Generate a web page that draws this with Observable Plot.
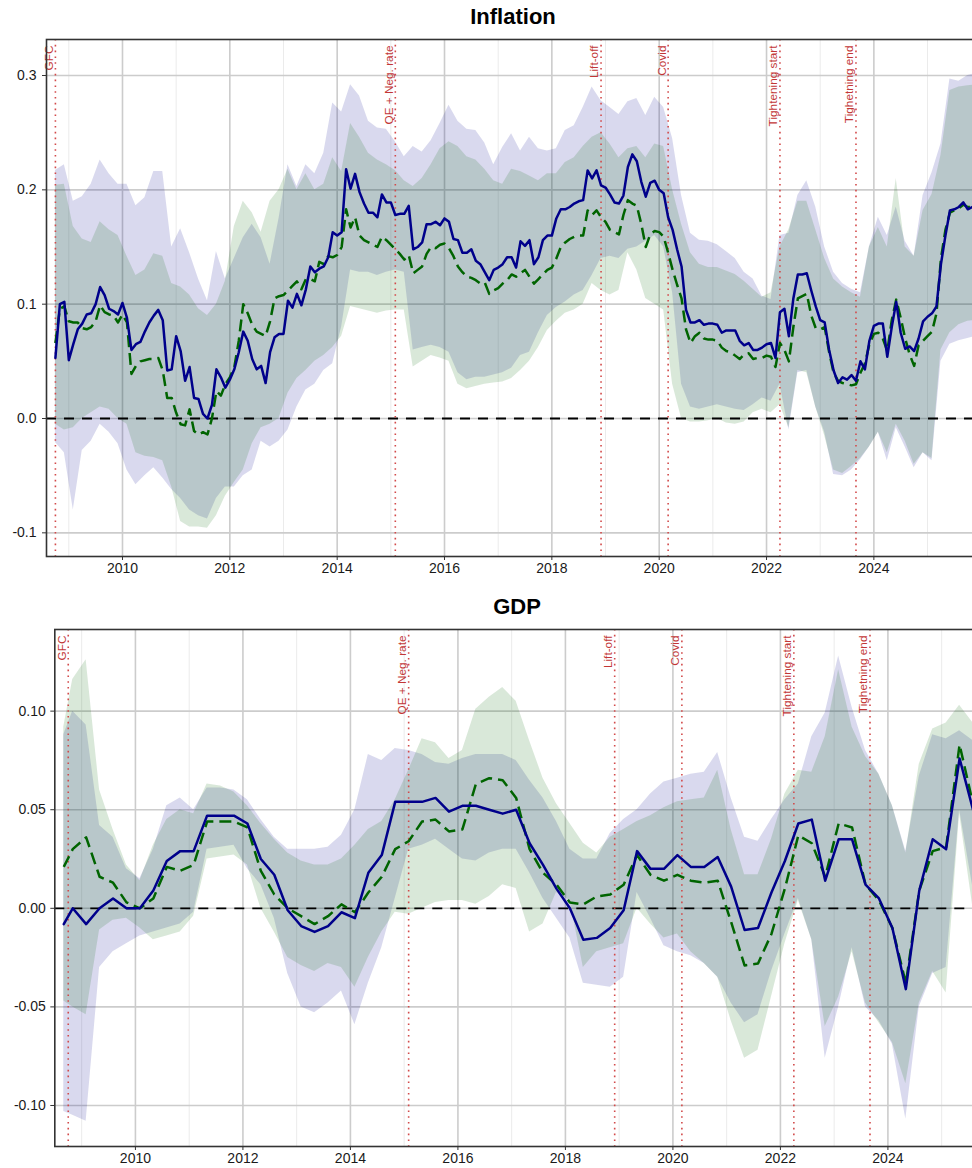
<!DOCTYPE html>
<html><head><meta charset="utf-8">
<script src="https://cdn.jsdelivr.net/npm/d3@7"></script>
<script src="https://cdn.jsdelivr.net/npm/@observablehq/plot@0.6"></script>
<style>
body{margin:0;background:#fff;}
#wrap{position:relative;width:972px;height:1168px;overflow:hidden;font-family:"Liberation Sans",Arial,sans-serif;}
.title{position:absolute;font-weight:bold;font-size:22px;line-height:22px;text-align:center;color:#000;}
.chart{position:absolute;left:0;}
</style></head><body>
<div id="wrap">
<div id="c1" class="chart" style="top:0"></div>
<div id="c2" class="chart" style="top:590px"></div>
<div class="title" style="top:6px;left:46px;width:934px">Inflation</div>
<div class="title" style="top:596px;left:54px;width:926px">GDP</div>
</div>
<script>
// ---------- Inflation: monthly lines (Oct 2008 - Nov 2025) ----------
const infBlue = [
0.053,0.100,0.102,0.051,0.065,0.078,0.083,0.091,0.092,0.100,
0.115,0.108,0.096,0.094,0.091,0.101,0.088,0.060,0.065,0.067,
0.076,0.084,0.090,0.095,0.086,0.042,0.043,0.072,0.059,0.033,
0.045,0.018,0.017,0.004,0.000,0.012,0.043,0.036,0.027,0.034,
0.043,0.058,0.076,0.068,0.052,0.043,0.046,0.031,0.058,0.071,
0.074,0.074,0.103,0.097,0.109,0.099,0.113,0.133,0.128,0.131,
0.133,0.141,0.163,0.160,0.163,0.218,0.201,0.214,0.198,0.188,
0.180,0.180,0.176,0.196,0.189,0.189,0.178,0.179,0.179,0.186,
0.148,0.150,0.154,0.170,0.170,0.172,0.169,0.175,0.172,0.157,
0.156,0.145,0.145,0.148,0.138,0.135,0.128,0.121,0.130,0.132,
0.135,0.141,0.141,0.132,0.155,0.151,0.156,0.135,0.141,0.156,
0.160,0.160,0.175,0.183,0.183,0.185,0.188,0.190,0.191,0.217,
0.210,0.217,0.204,0.202,0.196,0.189,0.188,0.195,0.220,0.231,
0.225,0.207,0.194,0.206,0.208,0.200,0.197,0.176,0.165,0.148,
0.133,0.095,0.084,0.084,0.086,0.082,0.083,0.083,0.082,0.075,
0.077,0.077,0.077,0.068,0.064,0.066,0.060,0.060,0.062,0.065,
0.066,0.053,0.093,0.096,0.072,0.105,0.126,0.126,0.127,0.112,
0.098,0.086,0.084,0.060,0.042,0.031,0.036,0.034,0.038,0.033,
0.050,0.043,0.068,0.081,0.083,0.083,0.054,0.080,0.102,0.075,
0.061,0.063,0.059,0.070,0.085,0.089,0.092,0.098,0.135,0.160,
0.182,0.183,0.185,0.189,0.183,0.185];
const infGreen = [
0.066,0.096,0.098,0.085,0.084,0.084,0.079,0.078,0.080,0.085,
0.099,0.093,0.091,0.090,0.084,0.091,0.084,0.039,0.046,0.050,
0.051,0.052,0.052,0.053,0.042,0.018,0.018,0.005,-0.005,-0.006,
0.008,-0.011,-0.014,-0.012,-0.014,0.000,0.024,0.020,0.030,0.036,
0.045,0.068,0.100,0.092,0.082,0.076,0.074,0.072,0.085,0.105,
0.107,0.108,0.112,0.116,0.120,0.113,0.122,0.122,0.120,0.137,
0.135,0.142,0.141,0.143,0.150,0.183,0.167,0.176,0.160,0.156,
0.154,0.152,0.150,0.159,0.156,0.152,0.148,0.144,0.139,0.143,
0.127,0.130,0.133,0.144,0.150,0.149,0.152,0.153,0.149,0.142,
0.133,0.128,0.124,0.123,0.121,0.118,0.119,0.109,0.112,0.114,
0.118,0.121,0.126,0.124,0.127,0.130,0.124,0.118,0.122,0.126,
0.130,0.132,0.140,0.150,0.154,0.157,0.159,0.160,0.160,0.182,
0.178,0.182,0.176,0.172,0.165,0.163,0.161,0.178,0.191,0.188,
0.186,0.170,0.150,0.161,0.164,0.163,0.159,0.145,0.130,0.117,
0.105,0.078,0.066,0.072,0.075,0.070,0.069,0.069,0.068,0.062,
0.059,0.058,0.055,0.052,0.056,0.057,0.052,0.053,0.053,0.055,
0.054,0.045,0.066,0.060,0.050,0.080,0.105,0.107,0.109,0.090,
0.079,0.078,0.080,0.058,0.040,0.033,0.031,0.030,0.029,0.030,
0.040,0.048,0.065,0.074,0.075,0.070,0.059,0.086,0.104,0.088,
0.070,0.056,0.046,0.064,0.068,0.072,0.076,0.092,0.140,0.165,
0.180,0.182,0.184,0.187,0.185,0.185];
// ---------- Inflation: bands, every two months (Oct 2008 - Dec 2025) ----------
const infBlueHi = [
0.217,0.222,0.190,0.194,0.205,0.226,0.214,0.205,0.205,0.186,
0.193,0.216,0.216,0.150,0.166,0.145,0.122,0.103,0.146,0.122,
0.140,0.158,0.170,0.158,0.135,0.175,0.222,0.203,0.222,0.214,
0.232,0.276,0.268,0.292,0.282,0.260,0.254,0.253,0.242,0.229,
0.238,0.233,0.243,0.258,0.274,0.260,0.253,0.252,0.241,0.222,
0.237,0.249,0.234,0.246,0.236,0.234,0.236,0.252,0.256,0.272,
0.290,0.278,0.272,0.266,0.277,0.280,0.265,0.281,0.272,0.245,
0.195,0.162,0.156,0.155,0.152,0.146,0.140,0.128,0.122,0.107,
0.104,0.160,0.162,0.195,0.208,0.185,0.150,0.128,0.118,0.113,
0.110,0.150,0.176,0.160,0.185,0.155,0.142,0.195,0.215,0.240,
0.297,0.295,0.300,0.302];
const infGreenHi = [
0.204,0.205,0.168,0.157,0.154,0.172,0.165,0.160,0.142,0.125,
0.130,0.144,0.142,0.118,0.115,0.108,0.096,0.090,0.100,0.120,
0.168,0.190,0.180,0.163,0.190,0.200,0.218,0.200,0.214,0.200,
0.205,0.228,0.216,0.258,0.246,0.232,0.226,0.222,0.217,0.208,
0.203,0.210,0.222,0.236,0.242,0.238,0.229,0.226,0.218,0.208,
0.205,0.218,0.216,0.212,0.208,0.214,0.214,0.224,0.228,0.238,
0.246,0.250,0.240,0.228,0.236,0.238,0.228,0.240,0.238,0.200,
0.170,0.145,0.135,0.132,0.132,0.129,0.126,0.120,0.113,0.106,
0.110,0.150,0.165,0.190,0.190,0.165,0.140,0.122,0.115,0.110,
0.106,0.150,0.167,0.150,0.210,0.150,0.142,0.182,0.196,0.230,
0.287,0.290,0.291,0.292];
const infBlueLo = [
-0.021,-0.030,-0.080,-0.028,-0.020,-0.005,-0.012,-0.022,-0.045,-0.058,
-0.050,-0.043,-0.052,-0.062,-0.070,-0.080,-0.085,-0.088,-0.070,-0.060,
-0.060,-0.050,-0.045,-0.020,-0.025,-0.020,-0.010,0.010,0.025,0.030,
0.042,0.048,0.080,0.130,0.128,0.128,0.125,0.128,0.130,0.128,
0.060,0.062,0.064,0.062,0.058,0.040,0.034,0.036,0.036,0.038,
0.040,0.044,0.055,0.058,0.075,0.090,0.097,0.102,0.108,0.112,
0.125,0.140,0.142,0.140,0.148,0.150,0.155,0.160,0.150,0.110,
0.030,0.010,0.008,0.010,0.012,0.010,0.008,0.007,0.012,0.018,
0.015,0.030,-0.010,0.040,0.042,0.010,-0.012,-0.049,-0.050,-0.045,
-0.036,-0.025,-0.012,-0.037,-0.008,-0.025,-0.043,-0.030,-0.037,0.050,
0.065,0.068,0.070,0.072];
const infGreenLo = [
-0.005,-0.010,-0.008,0.000,0.005,0.010,0.008,0.000,-0.005,-0.030,
-0.033,-0.034,-0.037,-0.060,-0.090,-0.095,-0.095,-0.096,-0.085,-0.068,
-0.056,-0.045,-0.022,-0.008,-0.005,0.000,0.022,0.035,0.042,0.050,
0.055,0.062,0.072,0.098,0.096,0.094,0.092,0.094,0.095,0.095,
0.045,0.050,0.055,0.053,0.050,0.030,0.026,0.028,0.030,0.031,
0.032,0.035,0.042,0.050,0.062,0.077,0.085,0.092,0.095,0.100,
0.118,0.112,0.108,0.112,0.145,0.130,0.105,0.100,0.095,0.030,
0.000,-0.003,-0.003,-0.002,0.000,-0.004,-0.005,-0.003,0.005,0.008,
0.005,0.012,-0.008,0.042,0.040,0.010,-0.015,-0.045,-0.048,-0.042,
-0.035,-0.025,-0.012,-0.030,-0.005,-0.020,-0.040,-0.030,-0.035,0.060,
0.075,0.082,0.085,0.086];

// ---------- GDP: quarterly (Sep 2008, then Nov 2008 ... Aug 2025) ----------
const gdpBlue = [
-0.008,0.000,-0.008,0.000,0.005,0.000,0.000,0.009,0.024,0.029,
0.029,0.047,0.047,0.047,0.043,0.025,0.017,-0.001,-0.009,-0.012,
-0.009,-0.002,-0.005,0.018,0.027,0.054,0.054,0.054,0.056,0.049,
0.052,0.052,0.050,0.048,0.050,0.033,0.022,0.010,0.000,-0.016,
-0.015,-0.010,-0.001,0.029,0.020,0.020,0.027,0.021,0.021,0.026,
0.011,-0.011,-0.010,0.008,0.024,0.043,0.045,0.014,0.035,0.035,
0.012,0.005,-0.010,-0.041,0.009,0.035,0.030,0.076,0.050];
const gdpGreen = [
0.021,0.030,0.036,0.016,0.013,0.003,0.000,0.005,0.021,0.019,
0.022,0.044,0.044,0.044,0.041,0.019,0.007,0.000,-0.004,-0.008,
-0.004,0.002,-0.002,0.008,0.016,0.030,0.034,0.044,0.045,0.039,
0.040,0.063,0.066,0.065,0.056,0.030,0.018,0.012,0.003,0.002,
0.006,0.007,0.012,0.027,0.017,0.014,0.017,0.014,0.013,0.014,
-0.007,-0.029,-0.028,-0.013,0.010,0.037,0.033,0.016,0.043,0.041,
0.012,0.004,-0.010,-0.038,0.009,0.029,0.031,0.083,0.053];
const gdpBlueHi = [
0.088,0.100,0.093,0.042,0.036,0.020,0.015,0.030,0.052,0.056,
0.050,0.061,0.061,0.060,0.055,0.045,0.036,0.030,0.030,0.030,
0.031,0.037,0.050,0.078,0.075,0.081,0.080,0.078,0.074,0.073,
0.076,0.078,0.078,0.078,0.075,0.065,0.056,0.044,0.030,0.025,
0.025,0.038,0.045,0.050,0.058,0.064,0.066,0.068,0.069,0.079,
0.056,0.036,0.034,0.045,0.055,0.063,0.087,0.099,0.128,0.102,
0.080,0.068,0.052,0.029,0.067,0.088,0.086,0.090,0.085];
const gdpGreenHi = [
0.092,0.116,0.126,0.060,0.040,0.022,0.014,0.032,0.045,0.050,
0.048,0.063,0.062,0.059,0.052,0.043,0.035,0.028,0.024,0.022,
0.022,0.025,0.032,0.040,0.044,0.055,0.070,0.086,0.084,0.076,
0.080,0.101,0.107,0.112,0.105,0.085,0.066,0.053,0.043,0.033,
0.028,0.036,0.040,0.044,0.047,0.051,0.054,0.055,0.056,0.070,
0.040,0.017,0.017,0.035,0.058,0.070,0.069,0.087,0.121,0.092,
0.077,0.068,0.052,0.028,0.073,0.091,0.094,0.103,0.094];
const gdpBlueLo = [
-0.103,-0.105,-0.108,-0.030,-0.022,-0.018,-0.014,-0.012,-0.010,-0.008,
-0.002,0.030,0.031,0.032,0.020,0.012,-0.005,-0.033,-0.050,-0.053,
-0.048,-0.042,-0.059,-0.038,-0.020,0.005,0.030,0.032,0.035,0.030,
0.025,0.024,0.028,0.030,0.030,0.018,0.005,-0.005,-0.015,-0.038,
-0.039,-0.040,-0.035,0.008,-0.005,-0.019,-0.022,-0.024,-0.028,-0.035,
-0.048,-0.058,-0.054,-0.032,-0.013,0.005,-0.016,-0.076,-0.050,-0.020,
-0.050,-0.057,-0.069,-0.107,-0.050,-0.033,-0.030,0.050,0.010];
const gdpGreenLo = [
-0.047,-0.050,-0.054,-0.011,-0.006,-0.005,-0.010,-0.016,-0.014,-0.012,
-0.004,0.025,0.026,0.027,0.022,0.000,-0.012,-0.025,-0.029,-0.032,
-0.028,-0.030,-0.040,-0.025,-0.012,-0.002,-0.003,0.000,0.003,0.004,
0.004,0.002,0.006,0.012,0.010,-0.012,-0.008,0.008,0.004,-0.030,
-0.022,-0.020,-0.018,0.000,-0.008,-0.015,-0.013,-0.022,-0.028,-0.035,
-0.057,-0.076,-0.072,-0.045,-0.018,0.004,-0.016,-0.060,-0.045,-0.022,
-0.048,-0.058,-0.068,-0.089,-0.048,-0.032,-0.043,0.048,0.000];

// ---------- events, ticks ----------
const eventLabels = ["GFC", "QE + Neg. rate", "Lift-off", "Covid", "Tightening start", "Tighetning end"];
const eventMonths = ["2008-10", "2015-02", "2018-12", "2020-03", "2022-04", "2023-09"];
const majorYears = [2010, 2012, 2014, 2016, 2018, 2020, 2022, 2024];
const minorYears = [2009, 2011, 2013, 2015, 2017, 2019, 2021, 2023, 2025];
const infYTicks = [-0.1, 0, 0.1, 0.2, 0.3];
const gdpYTicks = [-0.10, -0.05, 0, 0.05, 0.10];

// ---------- helpers ----------
const ym = (y, m) => new Date(Date.UTC(y, m - 1, 1));
const dec = d => d.getUTCFullYear() + d.getUTCMonth() / 12;
const parseYM = s => { const [y, m] = s.split("-").map(Number); return ym(y, m); };
const eventYears = eventMonths.map(s => dec(parseYM(s)));
const infStart = ym(2008, 10);
const infLineYears = infBlue.map((_, j) => dec(d3.utcMonth.offset(infStart, j)));
const infBandYears = infBlueHi.map((_, i) => dec(d3.utcMonth.offset(infStart, 2 * i)));
const gdpYears = gdpBlue.map((_, k) => k === 0 ? dec(ym(2008, 9)) : dec(d3.utcMonth.offset(ym(2008, 11), 3 * (k - 1))));

function panel(o) {
  return Plot.plot({
    width: 972, height: o.height,
    marginLeft: o.marginLeft, marginRight: -2, marginTop: o.marginTop, marginBottom: o.marginBottom,
    style: {fontFamily: '"Liberation Sans", Arial, sans-serif', fontSize: "14px", color: "#1a1a1a", background: "transparent"},
    x: {type: "linear", domain: o.xDomain},
    y: {domain: o.yDomain},
    marks: [
      Plot.gridX(minorYears, {stroke: "#ebebeb", strokeOpacity: 1, strokeWidth: 1}),
      Plot.gridX(majorYears, {stroke: "#cccccc", strokeOpacity: 1, strokeWidth: 1.6}),
      Plot.gridY(o.yTicks, {stroke: "#cccccc", strokeOpacity: 1, strokeWidth: 1.6}),
      Plot.area(o.blueHi, {x1: o.bandYears, y1: o.blueLo, y2: o.blueHi, fill: "#00008B", fillOpacity: 0.15, clip: true}),
      Plot.area(o.greenHi, {x1: o.bandYears, y1: o.greenLo, y2: o.greenHi, fill: "#006400", fillOpacity: 0.15, clip: true}),
      Plot.ruleY([0], {stroke: "#000", strokeWidth: 1.8, strokeDasharray: "10,8"}),
      Plot.ruleX(eventYears, {stroke: "#d24a4a", strokeWidth: 1.6, strokeDasharray: "1.6,4.2"}),
      Plot.text(eventLabels, {x: eventYears, text: d => d, frameAnchor: "top", rotate: -90, textAnchor: "end",
        dx: -11, dy: 6, fill: "#c23636", fontSize: 11.8}),
      Plot.line(o.green, {x: o.lineYears, y: o.green, stroke: "#006400", strokeWidth: 2.5, strokeDasharray: "12,6", strokeLinecap: "butt", clip: true}),
      Plot.line(o.blue, {x: o.lineYears, y: o.blue, stroke: "#00008B", strokeWidth: 2.5, clip: true}),
      Plot.frame({stroke: "#333", strokeWidth: 1.6}),
      Plot.axisX(majorYears, {tickSize: 4, tickPadding: 3, tickFormat: d => String(d), stroke: "#333", fill: "#1a1a1a", fontSize: 14, label: null}),
      Plot.axisY(o.yTicks, {tickSize: 4, tickPadding: o.tickPadding, tickFormat: o.yFmt, stroke: "#333", fill: "#1a1a1a", fontSize: 14, label: null})
    ]
  });
}

document.getElementById("c1").appendChild(panel({
  height: 590, marginLeft: 46, marginTop: 39, marginBottom: 34,
  xDomain: [2008.584, 2025.875], yDomain: [-0.1207, 0.3315],
  yTicks: infYTicks, yFmt: d => d.toFixed(1), tickPadding: 6,
  bandYears: infBandYears, lineYears: infLineYears,
  blueHi: infBlueHi, blueLo: infBlueLo, greenHi: infGreenHi, greenLo: infGreenLo,
  blue: infBlue, green: infGreen
}));
document.getElementById("c2").appendChild(panel({
  height: 578, marginLeft: 54.3, marginTop: 39, marginBottom: 22,
  xDomain: [2008.5, 2025.611], yDomain: [-0.1208, 0.1414],
  yTicks: gdpYTicks, yFmt: d => d.toFixed(2), tickPadding: 5,
  bandYears: gdpYears, lineYears: gdpYears,
  blueHi: gdpBlueHi, blueLo: gdpBlueLo, greenHi: gdpGreenHi, greenLo: gdpGreenLo,
  blue: gdpBlue, green: gdpGreen
}));
</script>
</body></html>
